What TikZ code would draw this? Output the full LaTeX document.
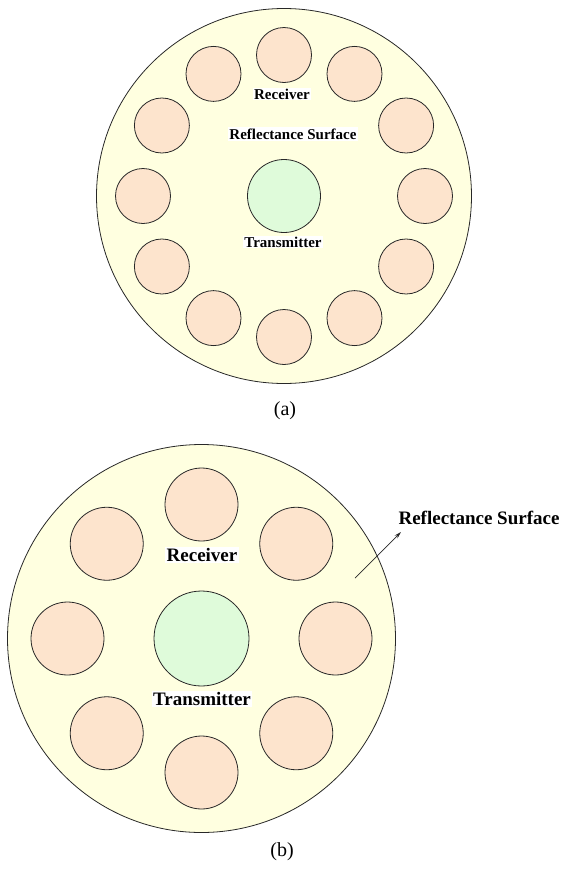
\documentclass[tikz,border=0pt]{standalone}
\usepackage{fontspec}
\setmainfont{Liberation Serif}
\usetikzlibrary{arrows.meta}
\definecolor{surface}{RGB}{255,255,224}
\definecolor{rxfill}{RGB}{253,228,205}
\definecolor{txfill}{RGB}{223,251,218}
\definecolor{edge}{RGB}{40,40,40}
\begin{document}
\begin{tikzpicture}[x=1pt,y=-1pt,
  disc/.style={circle,draw=edge,line width=0.8pt,inner sep=0pt,minimum size=#1},
  surf/.style={disc=#1,fill=surface},
  rx/.style={disc=#1,fill=rxfill},
  tx/.style={disc=#1,fill=txfill},
  tagA/.style={fill=white,inner sep=1.2pt,font=\fontsize{15}{17}\selectfont\bfseries},
  tagB/.style={fill=white,inner sep=1.5pt,font=\fontsize{19}{22}\selectfont\bfseries},
  caption/.style={inner sep=0pt,font=\fontsize{20}{22}\selectfont}]
\useasboundingbox (0,0) rectangle (563,873);

% (a) twelve receivers round one transmitter
\node[surf=375pt] (surfA) at (284,196) {};
\foreach \i in {0,...,11}
  \node[rx=55pt] (ra\i) at ([shift={(\i*30:141)}]surfA.center) {};
\node[tx=73pt] (txA) at (surfA.center) {};
\node[tagA] (rxlabA) at (282,94) {Receiver};
\node[tagA] (surflabA) at (293,134) {Reflectance Surface};
\node[tagA] (txlabA) at (283,242) {Transmitter};
\node[caption] (capA) at (285,411) {(a)};

% (b) eight receivers round one transmitter
\node[surf=388pt] (surfB) at (201.5,638.5) {};
\foreach \i in {0,...,7}
  \node[rx=73pt] (rb\i) at ([shift={(\i*45:134)}]surfB.center) {};
\node[tx=95pt] (txB) at (surfB.center) {};
\node[tagB] (rxlabB) at (202,555) {Receiver};
\node[tagB] (txlabB) at (202,699) {Transmitter};
\node[inner sep=0pt,font=\fontsize{19}{22}\selectfont\bfseries] (surflabB) at (479,518) {Reflectance Surface};
\coordinate (pointerTail) at (355,578);
\coordinate (pointerTip) at (401,532);
\draw[edge,line width=0.7pt,-{Stealth[length=7pt,width=4pt]}] (pointerTail) -- (pointerTip);
\node[caption] (capB) at (282,852) {(b)};
\end{tikzpicture}
\end{document}
